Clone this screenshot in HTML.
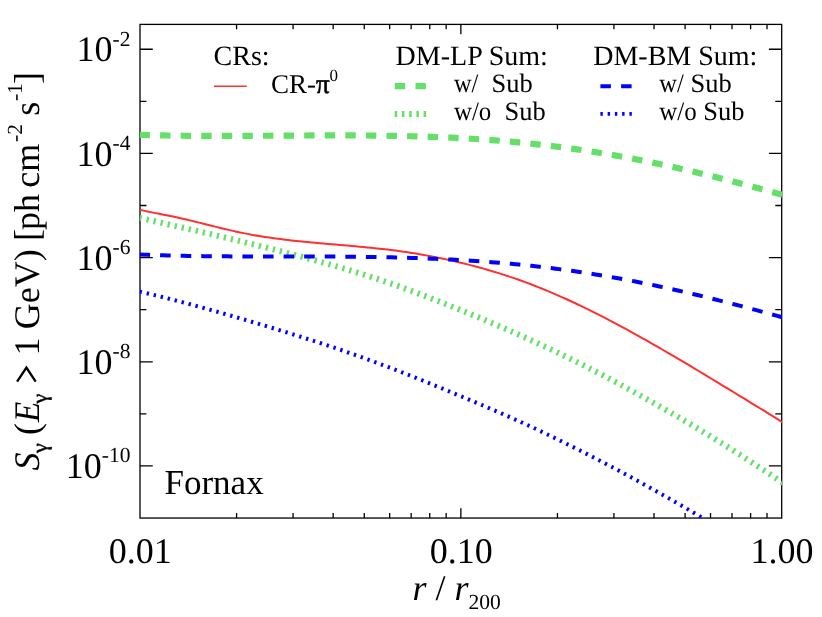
<!DOCTYPE html>
<html><head><meta charset="utf-8"><title>Fornax</title>
<style>
html,body{margin:0;padding:0;background:#fff;}
body{width:822px;height:617px;overflow:hidden;font-family:"Liberation Serif",serif;}
svg{display:block;will-change:transform;}
text{font-family:"Liberation Serif",serif;fill:#000;text-rendering:geometricPrecision;}
.i{font-style:italic;}
</style></head><body>
<svg width="822" height="617" viewBox="0 0 822 617">
<rect x="0" y="0" width="822" height="617" fill="#fff"/>
<defs><clipPath id="cp"><rect x="139.80" y="24.20" width="642.20" height="494.15"/></clipPath></defs>
<g stroke="#000" stroke-width="1.30" fill="none" stroke-linecap="butt">
<rect x="140.00" y="24.40" width="641.70" height="493.65"/>
<path d="M236.59 518.05 L236.59 513.11M236.59 24.40 L236.59 29.34M293.08 518.05 L293.08 513.11M293.08 24.40 L293.08 29.34M333.17 518.05 L333.17 513.11M333.17 24.40 L333.17 29.34M364.26 518.05 L364.26 513.11M364.26 24.40 L364.26 29.34M389.67 518.05 L389.67 513.11M389.67 24.40 L389.67 29.34M411.15 518.05 L411.15 513.11M411.15 24.40 L411.15 29.34M429.76 518.05 L429.76 513.11M429.76 24.40 L429.76 29.34M446.17 518.05 L446.17 513.11M446.17 24.40 L446.17 29.34M460.85 518.05 L460.85 508.18M460.85 24.40 L460.85 34.27M557.44 518.05 L557.44 513.11M557.44 24.40 L557.44 29.34M613.93 518.05 L613.93 513.11M613.93 24.40 L613.93 29.34M654.02 518.05 L654.02 513.11M654.02 24.40 L654.02 29.34M685.11 518.05 L685.11 513.11M685.11 24.40 L685.11 29.34M710.52 518.05 L710.52 513.11M710.52 24.40 L710.52 29.34M732.00 518.05 L732.00 513.11M732.00 24.40 L732.00 29.34M750.61 518.05 L750.61 513.11M750.61 24.40 L750.61 29.34M767.02 518.05 L767.02 513.11M767.02 24.40 L767.02 29.34M140.00 465.96 L152.80 465.96M781.70 465.96 L768.90 465.96M140.00 413.87 L146.40 413.87M781.70 413.87 L775.30 413.87M140.00 361.78 L152.80 361.78M781.70 361.78 L768.90 361.78M140.00 309.70 L146.40 309.70M781.70 309.70 L775.30 309.70M140.00 257.61 L152.80 257.61M781.70 257.61 L768.90 257.61M140.00 205.52 L146.40 205.52M781.70 205.52 L775.30 205.52M140.00 153.43 L152.80 153.43M781.70 153.43 L768.90 153.43M140.00 101.34 L146.40 101.34M781.70 101.34 L775.30 101.34M140.00 49.25 L152.80 49.25M781.70 49.25 L768.90 49.25"/>
</g>
<g clip-path="url(#cp)" fill="none" stroke-linecap="butt" stroke-linejoin="round">
<path d="M139.50 134.86 C140.83 134.90 144.83 135.02 147.50 135.09 C150.17 135.16 152.83 135.22 155.50 135.28 C158.17 135.34 160.83 135.40 163.50 135.45 C166.17 135.50 168.83 135.54 171.50 135.58 C174.17 135.62 176.83 135.66 179.50 135.69 C182.17 135.72 184.83 135.75 187.50 135.78 C190.17 135.80 192.83 135.82 195.50 135.84 C198.17 135.86 200.83 135.87 203.50 135.88 C206.17 135.89 208.83 135.90 211.50 135.90 C214.17 135.91 216.83 135.91 219.50 135.91 C222.17 135.91 224.83 135.91 227.50 135.91 C230.17 135.90 232.83 135.89 235.50 135.89 C238.17 135.88 240.83 135.87 243.50 135.86 C246.17 135.85 248.83 135.83 251.50 135.82 C254.17 135.81 256.83 135.79 259.50 135.77 C262.17 135.76 264.83 135.74 267.50 135.73 C270.17 135.71 272.83 135.69 275.50 135.67 C278.17 135.66 280.83 135.64 283.50 135.62 C286.17 135.60 288.83 135.59 291.50 135.57 C294.17 135.56 296.83 135.54 299.50 135.52 C302.17 135.51 304.83 135.49 307.50 135.48 C310.17 135.47 312.83 135.46 315.50 135.45 C318.17 135.44 320.83 135.43 323.50 135.42 C326.17 135.41 328.83 135.41 331.50 135.40 C334.17 135.40 336.83 135.40 339.50 135.40 C342.17 135.40 344.83 135.40 347.50 135.41 C350.17 135.42 352.83 135.43 355.50 135.44 C358.17 135.45 360.83 135.46 363.50 135.48 C366.17 135.50 368.83 135.52 371.50 135.55 C374.17 135.57 376.83 135.60 379.50 135.64 C382.17 135.67 384.83 135.70 387.50 135.75 C390.17 135.79 392.83 135.83 395.50 135.88 C398.17 135.93 400.83 135.98 403.50 136.04 C406.17 136.10 408.83 136.16 411.50 136.23 C414.17 136.30 416.83 136.38 419.50 136.45 C422.17 136.53 424.83 136.62 427.50 136.71 C430.17 136.80 432.83 136.89 435.50 137.00 C438.17 137.10 440.83 137.20 443.50 137.32 C446.17 137.43 448.83 137.55 451.50 137.68 C454.17 137.81 456.83 137.94 459.50 138.08 C462.17 138.22 464.83 138.36 467.50 138.52 C470.17 138.67 472.83 138.83 475.50 139.00 C478.17 139.17 480.83 139.34 483.50 139.53 C486.17 139.71 488.83 139.90 491.50 140.10 C494.17 140.30 496.83 140.50 499.50 140.72 C502.17 140.93 504.83 141.15 507.50 141.38 C510.17 141.61 512.83 141.85 515.50 142.10 C518.17 142.35 520.83 142.60 523.50 142.86 C526.17 143.13 528.83 143.40 531.50 143.68 C534.17 143.96 536.83 144.25 539.50 144.55 C542.17 144.85 544.83 145.16 547.50 145.48 C550.17 145.79 552.83 146.12 555.50 146.46 C558.17 146.79 560.83 147.13 563.50 147.49 C566.17 147.84 568.83 148.20 571.50 148.57 C574.17 148.95 576.83 149.33 579.50 149.72 C582.17 150.11 584.83 150.50 587.50 150.91 C590.17 151.32 592.83 151.74 595.50 152.16 C598.17 152.59 600.83 153.02 603.50 153.47 C606.17 153.91 608.83 154.37 611.50 154.83 C614.17 155.29 616.83 155.76 619.50 156.24 C622.17 156.72 624.83 157.21 627.50 157.71 C630.17 158.20 632.83 158.71 635.50 159.22 C638.17 159.74 640.83 160.26 643.50 160.80 C646.17 161.33 648.83 161.87 651.50 162.42 C654.17 162.97 656.83 163.52 659.50 164.09 C662.17 164.65 664.83 165.23 667.50 165.81 C670.17 166.39 672.83 166.98 675.50 167.58 C678.17 168.17 680.83 168.78 683.50 169.39 C686.17 170.00 688.83 170.62 691.50 171.25 C694.17 171.88 696.83 172.51 699.50 173.15 C702.17 173.80 704.83 174.44 707.50 175.10 C710.17 175.75 712.83 176.41 715.50 177.08 C718.17 177.75 720.83 178.42 723.50 179.10 C726.17 179.78 728.83 180.47 731.50 181.16 C734.17 181.85 736.83 182.55 739.50 183.25 C742.17 183.95 744.83 184.66 747.50 185.37 C750.17 186.08 752.83 186.79 755.50 187.51 C758.17 188.23 760.83 188.96 763.50 189.68 C766.17 190.41 768.83 191.14 771.50 191.88 C774.17 192.61 776.83 193.35 779.50 194.09 C782.17 194.83 784.83 195.57 787.50 196.32 C790.17 197.06 793.42 197.97 795.50 198.55 C797.58 199.14 799.25 199.61 800.00 199.82" stroke="#64e068" stroke-width="6.2" stroke-dasharray="10.4 10.185"/>
<path d="M139.60 217.81 C140.93 218.11 144.93 219.03 147.60 219.64 C150.27 220.26 152.93 220.87 155.60 221.48 C158.27 222.09 160.93 222.70 163.60 223.31 C166.27 223.92 168.93 224.53 171.60 225.14 C174.27 225.75 176.93 226.36 179.60 226.97 C182.27 227.58 184.93 228.19 187.60 228.81 C190.27 229.42 192.93 230.04 195.60 230.66 C198.27 231.27 200.93 231.89 203.60 232.51 C206.27 233.14 208.93 233.76 211.60 234.38 C214.27 235.01 216.93 235.64 219.60 236.27 C222.27 236.90 224.93 237.53 227.60 238.17 C230.27 238.81 232.93 239.45 235.60 240.09 C238.27 240.73 240.93 241.38 243.60 242.03 C246.27 242.68 248.93 243.33 251.60 243.98 C254.27 244.64 256.93 245.30 259.60 245.96 C262.27 246.63 264.93 247.29 267.60 247.96 C270.27 248.63 272.93 249.31 275.60 249.98 C278.27 250.66 280.93 251.34 283.60 252.02 C286.27 252.71 288.93 253.40 291.60 254.09 C294.27 254.78 296.93 255.48 299.60 256.19 C302.27 256.89 304.93 257.60 307.60 258.31 C310.27 259.03 312.93 259.75 315.60 260.48 C318.27 261.21 320.93 261.95 323.60 262.69 C326.27 263.43 328.93 264.19 331.60 264.94 C334.27 265.70 336.93 266.47 339.60 267.25 C342.27 268.03 344.93 268.81 347.60 269.61 C350.27 270.40 352.93 271.20 355.60 272.02 C358.27 272.84 360.93 273.66 363.60 274.50 C366.27 275.34 368.93 276.19 371.60 277.05 C374.27 277.91 376.93 278.79 379.60 279.67 C382.27 280.56 384.93 281.46 387.60 282.37 C390.27 283.29 392.93 284.21 395.60 285.15 C398.27 286.09 400.93 287.04 403.60 288.01 C406.27 288.97 408.93 289.95 411.60 290.93 C414.27 291.92 416.93 292.92 419.60 293.93 C422.27 294.94 424.93 295.96 427.60 296.98 C430.27 298.01 432.93 299.04 435.60 300.08 C438.27 301.12 440.93 302.17 443.60 303.23 C446.27 304.28 448.93 305.34 451.60 306.41 C454.27 307.48 456.93 308.56 459.60 309.64 C462.27 310.72 464.93 311.80 467.60 312.90 C470.27 313.99 472.93 315.09 475.60 316.19 C478.27 317.30 480.93 318.41 483.60 319.52 C486.27 320.64 488.93 321.76 491.60 322.89 C494.27 324.02 496.93 325.16 499.60 326.31 C502.27 327.45 504.93 328.60 507.60 329.76 C510.27 330.92 512.93 332.09 515.60 333.27 C518.27 334.44 520.93 335.63 523.60 336.82 C526.27 338.02 528.93 339.22 531.60 340.43 C534.27 341.65 536.93 342.87 539.60 344.10 C542.27 345.34 544.93 346.58 547.60 347.83 C550.27 349.09 552.93 350.35 555.60 351.62 C558.27 352.90 560.93 354.18 563.60 355.48 C566.27 356.77 568.93 358.08 571.60 359.39 C574.27 360.71 576.93 362.04 579.60 363.37 C582.27 364.71 584.93 366.06 587.60 367.41 C590.27 368.77 592.93 370.14 595.60 371.52 C598.27 372.90 600.93 374.28 603.60 375.68 C606.27 377.08 608.93 378.49 611.60 379.91 C614.27 381.32 616.93 382.75 619.60 384.19 C622.27 385.62 624.93 387.07 627.60 388.52 C630.27 389.97 632.93 391.44 635.60 392.90 C638.27 394.37 640.93 395.85 643.60 397.34 C646.27 398.82 648.93 400.31 651.60 401.81 C654.27 403.31 656.93 404.82 659.60 406.33 C662.27 407.84 664.93 409.37 667.60 410.90 C670.27 412.43 672.93 413.97 675.60 415.51 C678.27 417.06 680.93 418.62 683.60 420.18 C686.27 421.75 688.93 423.33 691.60 424.91 C694.27 426.50 696.93 428.09 699.60 429.69 C702.27 431.30 704.93 432.91 707.60 434.54 C710.27 436.16 712.93 437.80 715.60 439.44 C718.27 441.09 720.93 442.74 723.60 444.41 C726.27 446.07 728.93 447.75 731.60 449.43 C734.27 451.12 736.93 452.82 739.60 454.52 C742.27 456.23 744.93 457.94 747.60 459.67 C750.27 461.39 752.93 463.12 755.60 464.86 C758.27 466.60 760.93 468.34 763.60 470.09 C766.27 471.83 768.93 473.58 771.60 475.33 C774.27 477.08 776.93 478.84 779.60 480.59 C782.27 482.34 784.93 484.09 787.60 485.84 C790.27 487.58 793.53 489.71 795.60 491.06 C797.67 492.41 799.27 493.44 800.00 493.92" stroke="#64e068" stroke-width="6" stroke-dasharray="2.3 4.905" stroke-dashoffset="0.1"/>
<path d="M139.50 209.82 C140.83 210.10 144.83 210.97 147.50 211.52 C150.17 212.06 152.83 212.58 155.50 213.11 C158.17 213.63 160.83 214.14 163.50 214.67 C166.17 215.20 168.83 215.73 171.50 216.29 C174.17 216.84 176.83 217.40 179.50 217.99 C182.17 218.57 184.83 219.17 187.50 219.79 C190.17 220.41 192.83 221.05 195.50 221.70 C198.17 222.35 200.83 223.03 203.50 223.69 C206.17 224.36 208.83 225.04 211.50 225.71 C214.17 226.38 216.83 227.05 219.50 227.71 C222.17 228.36 224.83 229.01 227.50 229.63 C230.17 230.25 232.83 230.86 235.50 231.45 C238.17 232.03 240.83 232.60 243.50 233.13 C246.17 233.67 248.83 234.19 251.50 234.68 C254.17 235.17 256.83 235.63 259.50 236.07 C262.17 236.51 264.83 236.93 267.50 237.33 C270.17 237.73 272.83 238.10 275.50 238.46 C278.17 238.82 280.83 239.16 283.50 239.48 C286.17 239.81 288.83 240.11 291.50 240.41 C294.17 240.71 296.83 240.99 299.50 241.26 C302.17 241.54 304.83 241.80 307.50 242.05 C310.17 242.31 312.83 242.55 315.50 242.80 C318.17 243.04 320.83 243.27 323.50 243.50 C326.17 243.74 328.83 243.97 331.50 244.19 C334.17 244.42 336.83 244.65 339.50 244.88 C342.17 245.11 344.83 245.34 347.50 245.57 C350.17 245.81 352.83 246.04 355.50 246.28 C358.17 246.53 360.83 246.78 363.50 247.03 C366.17 247.29 368.83 247.55 371.50 247.83 C374.17 248.10 376.83 248.38 379.50 248.68 C382.17 248.97 384.83 249.28 387.50 249.60 C390.17 249.92 392.83 250.25 395.50 250.60 C398.17 250.95 400.83 251.32 403.50 251.70 C406.17 252.08 408.83 252.48 411.50 252.90 C414.17 253.32 416.83 253.75 419.50 254.21 C422.17 254.67 424.83 255.14 427.50 255.63 C430.17 256.12 432.83 256.64 435.50 257.17 C438.17 257.70 440.83 258.25 443.50 258.81 C446.17 259.38 448.83 259.97 451.50 260.57 C454.17 261.17 456.83 261.79 459.50 262.43 C462.17 263.07 464.83 263.73 467.50 264.40 C470.17 265.08 472.83 265.76 475.50 266.47 C478.17 267.18 480.83 267.91 483.50 268.65 C486.17 269.40 488.83 270.16 491.50 270.95 C494.17 271.74 496.83 272.55 499.50 273.38 C502.17 274.22 504.83 275.08 507.50 275.96 C510.17 276.84 512.83 277.74 515.50 278.67 C518.17 279.60 520.83 280.55 523.50 281.53 C526.17 282.51 528.83 283.51 531.50 284.53 C534.17 285.55 536.83 286.60 539.50 287.66 C542.17 288.73 544.83 289.82 547.50 290.93 C550.17 292.04 552.83 293.18 555.50 294.33 C558.17 295.48 560.83 296.66 563.50 297.85 C566.17 299.05 568.83 300.26 571.50 301.50 C574.17 302.73 576.83 303.99 579.50 305.26 C582.17 306.53 584.83 307.82 587.50 309.12 C590.17 310.43 592.83 311.76 595.50 313.10 C598.17 314.44 600.83 315.80 603.50 317.17 C606.17 318.54 608.83 319.93 611.50 321.33 C614.17 322.73 616.83 324.15 619.50 325.58 C622.17 327.01 624.83 328.45 627.50 329.91 C630.17 331.36 632.83 332.83 635.50 334.31 C638.17 335.78 640.83 337.27 643.50 338.77 C646.17 340.27 648.83 341.78 651.50 343.30 C654.17 344.82 656.83 346.35 659.50 347.89 C662.17 349.43 664.83 350.98 667.50 352.53 C670.17 354.09 672.83 355.65 675.50 357.22 C678.17 358.79 680.83 360.37 683.50 361.95 C686.17 363.54 688.83 365.12 691.50 366.72 C694.17 368.31 696.83 369.91 699.50 371.51 C702.17 373.12 704.83 374.72 707.50 376.33 C710.17 377.94 712.83 379.56 715.50 381.17 C718.17 382.79 720.83 384.41 723.50 386.03 C726.17 387.65 728.83 389.27 731.50 390.90 C734.17 392.52 736.83 394.15 739.50 395.78 C742.17 397.41 744.83 399.04 747.50 400.67 C750.17 402.30 752.83 403.93 755.50 405.57 C758.17 407.20 760.83 408.84 763.50 410.47 C766.17 412.11 768.83 413.75 771.50 415.39 C774.17 417.03 776.83 418.67 779.50 420.31 C782.17 421.96 785.75 424.17 787.50 425.25 C789.25 426.33 789.58 426.54 790.00 426.79" stroke="#ff3030" stroke-width="2.0"/>
<path d="M139.50 254.49 C140.83 254.54 144.83 254.71 147.50 254.81 C150.17 254.91 152.83 255.00 155.50 255.09 C158.17 255.18 160.83 255.26 163.50 255.34 C166.17 255.41 168.83 255.48 171.50 255.55 C174.17 255.62 176.83 255.68 179.50 255.74 C182.17 255.80 184.83 255.85 187.50 255.90 C190.17 255.95 192.83 255.99 195.50 256.03 C198.17 256.07 200.83 256.11 203.50 256.14 C206.17 256.18 208.83 256.21 211.50 256.24 C214.17 256.26 216.83 256.29 219.50 256.31 C222.17 256.33 224.83 256.35 227.50 256.37 C230.17 256.38 232.83 256.40 235.50 256.41 C238.17 256.42 240.83 256.43 243.50 256.44 C246.17 256.45 248.83 256.46 251.50 256.46 C254.17 256.47 256.83 256.47 259.50 256.48 C262.17 256.48 264.83 256.48 267.50 256.48 C270.17 256.49 272.83 256.49 275.50 256.49 C278.17 256.49 280.83 256.49 283.50 256.49 C286.17 256.49 288.83 256.49 291.50 256.50 C294.17 256.50 296.83 256.50 299.50 256.50 C302.17 256.51 304.83 256.51 307.50 256.51 C310.17 256.52 312.83 256.53 315.50 256.53 C318.17 256.54 320.83 256.55 323.50 256.56 C326.17 256.57 328.83 256.58 331.50 256.59 C334.17 256.61 336.83 256.62 339.50 256.64 C342.17 256.66 344.83 256.68 347.50 256.70 C350.17 256.73 352.83 256.75 355.50 256.78 C358.17 256.81 360.83 256.84 363.50 256.88 C366.17 256.91 368.83 256.95 371.50 256.99 C374.17 257.03 376.83 257.08 379.50 257.13 C382.17 257.18 384.83 257.23 387.50 257.29 C390.17 257.34 392.83 257.40 395.50 257.47 C398.17 257.53 400.83 257.60 403.50 257.68 C406.17 257.75 408.83 257.83 411.50 257.91 C414.17 258.00 416.83 258.09 419.50 258.18 C422.17 258.27 424.83 258.37 427.50 258.48 C430.17 258.58 432.83 258.69 435.50 258.80 C438.17 258.92 440.83 259.04 443.50 259.17 C446.17 259.29 448.83 259.43 451.50 259.57 C454.17 259.71 456.83 259.85 459.50 260.00 C462.17 260.15 464.83 260.31 467.50 260.48 C470.17 260.64 472.83 260.81 475.50 260.99 C478.17 261.17 480.83 261.36 483.50 261.55 C486.17 261.74 488.83 261.94 491.50 262.15 C494.17 262.35 496.83 262.57 499.50 262.79 C502.17 263.01 504.83 263.24 507.50 263.48 C510.17 263.72 512.83 263.96 515.50 264.21 C518.17 264.47 520.83 264.73 523.50 265.00 C526.17 265.27 528.83 265.55 531.50 265.83 C534.17 266.12 536.83 266.42 539.50 266.72 C542.17 267.02 544.83 267.34 547.50 267.66 C550.17 267.98 552.83 268.31 555.50 268.65 C558.17 268.99 560.83 269.34 563.50 269.69 C566.17 270.05 568.83 270.42 571.50 270.79 C574.17 271.17 576.83 271.55 579.50 271.95 C582.17 272.34 584.83 272.74 587.50 273.15 C590.17 273.57 592.83 273.99 595.50 274.42 C598.17 274.85 600.83 275.29 603.50 275.74 C606.17 276.18 608.83 276.64 611.50 277.11 C614.17 277.58 616.83 278.05 619.50 278.53 C622.17 279.02 624.83 279.51 627.50 280.01 C630.17 280.52 632.83 281.03 635.50 281.55 C638.17 282.07 640.83 282.59 643.50 283.13 C646.17 283.67 648.83 284.21 651.50 284.76 C654.17 285.32 656.83 285.88 659.50 286.45 C662.17 287.02 664.83 287.59 667.50 288.18 C670.17 288.77 672.83 289.36 675.50 289.96 C678.17 290.56 680.83 291.17 683.50 291.78 C686.17 292.40 688.83 293.02 691.50 293.65 C694.17 294.28 696.83 294.92 699.50 295.56 C702.17 296.21 704.83 296.86 707.50 297.52 C710.17 298.17 712.83 298.84 715.50 299.50 C718.17 300.17 720.83 300.85 723.50 301.53 C726.17 302.21 728.83 302.90 731.50 303.59 C734.17 304.28 736.83 304.98 739.50 305.68 C742.17 306.38 744.83 307.08 747.50 307.79 C750.17 308.50 752.83 309.22 755.50 309.93 C758.17 310.65 760.83 311.37 763.50 312.10 C766.17 312.82 768.83 313.55 771.50 314.28 C774.17 315.01 776.83 315.74 779.50 316.47 C782.17 317.21 784.83 317.94 787.50 318.68 C790.17 319.42 793.42 320.32 795.50 320.89 C797.58 321.47 799.25 321.93 800.00 322.14" stroke="#0000ff" stroke-width="4.0" stroke-dasharray="10.6 9.985"/>
<path d="M139.60 291.61 C140.93 291.92 144.93 292.85 147.60 293.48 C150.27 294.12 152.93 294.76 155.60 295.41 C158.27 296.06 160.93 296.72 163.60 297.39 C166.27 298.06 168.93 298.74 171.60 299.42 C174.27 300.11 176.93 300.80 179.60 301.50 C182.27 302.20 184.93 302.90 187.60 303.62 C190.27 304.33 192.93 305.05 195.60 305.77 C198.27 306.50 200.93 307.23 203.60 307.96 C206.27 308.70 208.93 309.44 211.60 310.19 C214.27 310.94 216.93 311.69 219.60 312.45 C222.27 313.20 224.93 313.97 227.60 314.73 C230.27 315.50 232.93 316.27 235.60 317.05 C238.27 317.82 240.93 318.60 243.60 319.39 C246.27 320.17 248.93 320.96 251.60 321.75 C254.27 322.54 256.93 323.34 259.60 324.14 C262.27 324.94 264.93 325.74 267.60 326.55 C270.27 327.36 272.93 328.17 275.60 328.99 C278.27 329.80 280.93 330.62 283.60 331.45 C286.27 332.27 288.93 333.10 291.60 333.93 C294.27 334.77 296.93 335.60 299.60 336.44 C302.27 337.28 304.93 338.13 307.60 338.98 C310.27 339.83 312.93 340.69 315.60 341.56 C318.27 342.42 320.93 343.29 323.60 344.17 C326.27 345.04 328.93 345.93 331.60 346.82 C334.27 347.71 336.93 348.61 339.60 349.52 C342.27 350.43 344.93 351.35 347.60 352.27 C350.27 353.20 352.93 354.13 355.60 355.07 C358.27 356.01 360.93 356.96 363.60 357.92 C366.27 358.88 368.93 359.85 371.60 360.83 C374.27 361.80 376.93 362.79 379.60 363.78 C382.27 364.78 384.93 365.78 387.60 366.79 C390.27 367.80 392.93 368.82 395.60 369.85 C398.27 370.88 400.93 371.91 403.60 372.96 C406.27 374.00 408.93 375.05 411.60 376.11 C414.27 377.16 416.93 378.23 419.60 379.30 C422.27 380.37 424.93 381.45 427.60 382.53 C430.27 383.61 432.93 384.70 435.60 385.79 C438.27 386.88 440.93 387.98 443.60 389.08 C446.27 390.18 448.93 391.29 451.60 392.39 C454.27 393.50 456.93 394.61 459.60 395.72 C462.27 396.83 464.93 397.95 467.60 399.06 C470.27 400.18 472.93 401.30 475.60 402.42 C478.27 403.55 480.93 404.67 483.60 405.81 C486.27 406.94 488.93 408.07 491.60 409.22 C494.27 410.36 496.93 411.51 499.60 412.67 C502.27 413.83 504.93 415.00 507.60 416.17 C510.27 417.35 512.93 418.53 515.60 419.72 C518.27 420.91 520.93 422.11 523.60 423.33 C526.27 424.54 528.93 425.76 531.60 427.00 C534.27 428.23 536.93 429.48 539.60 430.73 C542.27 431.99 544.93 433.26 547.60 434.54 C550.27 435.82 552.93 437.11 555.60 438.41 C558.27 439.71 560.93 441.02 563.60 442.34 C566.27 443.65 568.93 444.97 571.60 446.30 C574.27 447.63 576.93 448.97 579.60 450.31 C582.27 451.66 584.93 453.01 587.60 454.37 C590.27 455.73 592.93 457.10 595.60 458.48 C598.27 459.86 600.93 461.24 603.60 462.64 C606.27 464.03 608.93 465.44 611.60 466.85 C614.27 468.26 616.93 469.69 619.60 471.11 C622.27 472.54 624.93 473.98 627.60 475.43 C630.27 476.87 632.93 478.32 635.60 479.78 C638.27 481.24 640.93 482.71 643.60 484.18 C646.27 485.65 648.93 487.13 651.60 488.62 C654.27 490.11 656.93 491.60 659.60 493.10 C662.27 494.60 664.93 496.11 667.60 497.62 C670.27 499.14 672.93 500.66 675.60 502.19 C678.27 503.72 680.93 505.26 683.60 506.80 C686.27 508.35 688.93 509.90 691.60 511.47 C694.27 513.04 696.93 514.61 699.60 516.20 C702.27 517.78 705.03 519.44 707.60 520.99 C710.17 522.54 713.77 524.74 715.00 525.49" stroke="#0000ff" stroke-width="4" stroke-dasharray="2.4 4.805" stroke-dashoffset="0"/>
</g>
<text x="130.5" y="61.35" text-anchor="end" font-size="36">10<tspan dy="-15.6" font-size="21.5">-2</tspan></text>
<text x="130.5" y="165.53" text-anchor="end" font-size="36">10<tspan dy="-15.6" font-size="21.5">-4</tspan></text>
<text x="130.5" y="269.71" text-anchor="end" font-size="36">10<tspan dy="-15.6" font-size="21.5">-6</tspan></text>
<text x="130.5" y="373.88" text-anchor="end" font-size="36">10<tspan dy="-15.6" font-size="21.5">-8</tspan></text>
<text x="130.5" y="478.06" text-anchor="end" font-size="36">10<tspan dy="-15.6" font-size="21.5">-10</tspan></text>
<text x="140.30" y="562.5" text-anchor="middle" font-size="36">0.01</text>
<text x="461.15" y="562.5" text-anchor="middle" font-size="36">0.10</text>
<text x="782.00" y="562.5" text-anchor="middle" font-size="36">1.00</text>
<text x="412.5" y="600.3" font-size="36"><tspan class="i">r</tspan> / <tspan class="i">r</tspan><tspan dy="8.3" font-size="21.5">200</tspan></text>
<g transform="translate(38.7 471.5) rotate(-90)">
<text x="0.90" y="0.00" font-size="36" class="i">S</text>
<text x="18.60" y="8.00" font-size="22" stroke="#000" stroke-width="0.45">&#947;</text>
<text x="36.50" y="0.00" font-size="36">(</text>
<text x="49.50" y="0.00" font-size="36" class="i" textLength="20.3" lengthAdjust="spacingAndGlyphs">E</text>
<text x="68.00" y="8.00" font-size="22" stroke="#000" stroke-width="0.45">&#947;</text>
<text x="116.00" y="0.00" font-size="36">1</text>
<text x="142.20" y="0.00" font-size="36">GeV)</text>
<text x="230.50" y="0.00" font-size="36">[</text>
<text x="241.40" y="0.00" font-size="36">ph</text>
<text x="283.80" y="0.00" font-size="36">cm</text>
<text x="329.60" y="-16.50" font-size="21.5">-2</text>
<text x="355.80" y="0.00" font-size="36">s</text>
<text x="370.40" y="-16.50" font-size="21.5">-1</text>
<text x="387.60" y="0.00" font-size="36">]</text>
<path d="M89.9 -21.6 L104.0 -12.3 L89.9 -3.0" fill="none" stroke="#000" stroke-width="2.3" stroke-linejoin="miter"/>
</g>
<text x="213.6" y="64.6" font-size="28">CRs:</text>
<path d="M214 86.2 H246.7" stroke="#ff3030" stroke-width="1.65" fill="none"/>
<text x="270.9" y="92.6" font-size="27">CR-<tspan stroke="#000" stroke-width="0.55">&#960;</tspan><tspan dy="-11.4" font-size="17">0</tspan></text>
<text x="395.6" y="64.6" font-size="28">DM-LP Sum:</text>
<path d="M394.8 86.1 H426" stroke="#64e068" stroke-width="6.1" stroke-dasharray="10.4 10.3" fill="none"/>
<path d="M394.7 114 H426.2" stroke="#64e068" stroke-width="5.8" stroke-dasharray="2.5 4.73" fill="none"/>
<text transform="translate(453.9 92.2) scale(0.92 1)" font-size="26.5">w/</text>
<text x="491.5" y="92.2" font-size="26.5">Sub</text>
<text transform="translate(453.9 119.9) scale(0.94 1)" font-size="26.5">w/o</text>
<text x="504.5" y="119.9" font-size="26.5">Sub</text>
<text x="593.2" y="64.6" font-size="28">DM-BM Sum:</text>
<path d="M600.4 86.25 H631.9" stroke="#0000ff" stroke-width="4" stroke-dasharray="10.5 10.2" fill="none"/>
<path d="M600.4 113.9 H632" stroke="#0000ff" stroke-width="3.8" stroke-dasharray="2.4 4.85" fill="none"/>
<text transform="translate(659.3 92.2) scale(0.92 1)" font-size="26.5">w/</text>
<text x="690.5" y="92.2" font-size="26.5">Sub</text>
<text transform="translate(659.3 119.9) scale(0.94 1)" font-size="26.5">w/o</text>
<text x="703.2" y="119.9" font-size="26.5">Sub</text>
<text x="164.5" y="494" font-size="35">Fornax</text>
</svg></body></html>
